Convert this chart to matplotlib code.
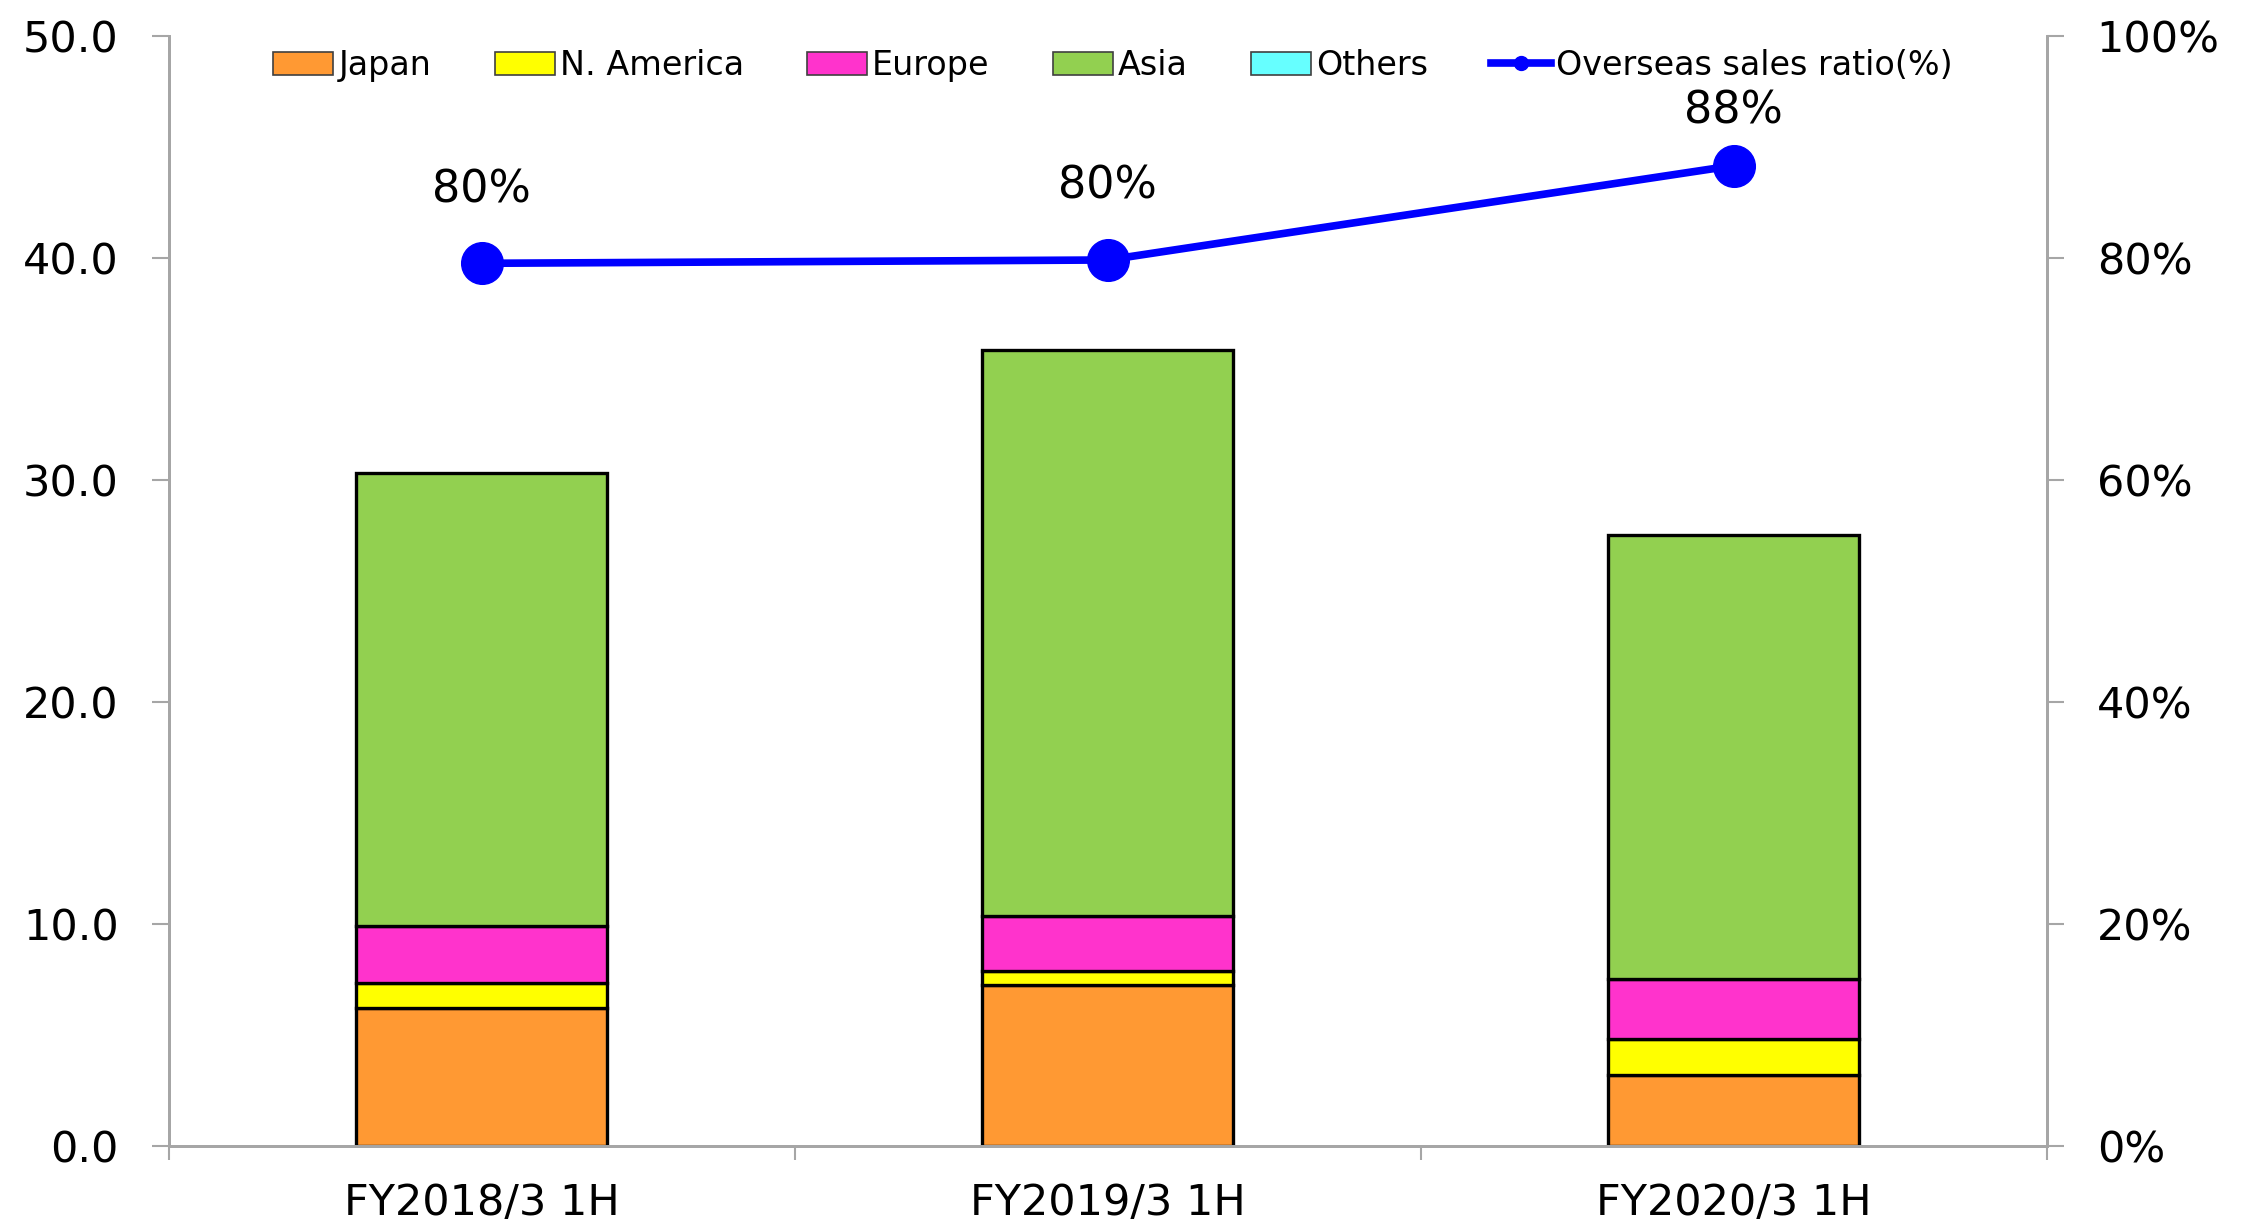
import matplotlib
matplotlib.use("Agg")
import matplotlib.pyplot as plt
from matplotlib.patches import Patch
from matplotlib.lines import Line2D
from matplotlib.ticker import FixedLocator, FuncFormatter
import numpy as np

categories = ["FY2018/3 1H", "FY2019/3 1H", "FY2020/3 1H"]
japan = [6.2, 7.25, 3.2]
n_america = [1.15, 0.65, 1.6]
europe = [2.55, 2.45, 2.7]
asia = [20.4, 25.5, 20.0]
others = [0.0, 0.0, 0.0]
overseas_ratio = [79.5, 79.8, 88.3]
ratio_labels = ["80%", "80%", "88%"]

series_names = ["Japan", "N. America", "Europe", "Asia", "Others"]
series_colors = ["#FF9933", "#FFFF00", "#FF33CC", "#92D050", "#66FFFF"]

plt.rcParams['font.family'] = ['DejaVu Sans']

fig = plt.figure(figsize=(22.41, 12.23), dpi=100)
ax = fig.add_axes([0.0752, 0.063, 0.9133 - 0.0752, 0.9708 - 0.063])
ax2 = ax.twinx()

x = np.arange(len(categories))
bottom = np.zeros(len(categories))
for vals, col in zip([japan, n_america, europe, asia, others], series_colors):
    v = np.array(vals)
    if v.sum() > 0:
        ax.bar(x, v, width=0.40, bottom=bottom, color=col, edgecolor="black",
               linewidth=2.4, zorder=2)
    bottom += v

ax.set_xlim(-0.5, 2.5)
ax.set_ylim(0, 50)
ax.yaxis.set_major_locator(FixedLocator([0, 10, 20, 30, 40, 50]))
ax.yaxis.set_major_formatter(FuncFormatter(lambda v, p: f"{v:.1f}"))
ax.set_xticks(x)
ax.set_xticklabels(categories)
ax.xaxis.set_minor_locator(FixedLocator([-0.5, 0.5, 1.5, 2.5]))
ax.tick_params(axis="x", which="major", length=0, labelsize=31, pad=26)
ax.tick_params(axis="x", which="minor", length=10, width=1.5, color="#A6A6A6")
ax.tick_params(axis="y", length=12, width=1.5, color="#A6A6A6", labelsize=31, pad=24)

ax2.set_ylim(0, 100)
ax2.yaxis.set_major_locator(FixedLocator([0, 20, 40, 60, 80, 100]))
ax2.yaxis.set_major_formatter(FuncFormatter(lambda v, p: f"{int(v)}%"))
ax2.tick_params(axis="y", length=12, width=1.5, color="#A6A6A6", labelsize=31, pad=24)

for a in (ax, ax2):
    a.spines["top"].set_visible(False)
    for s in ("left", "right", "bottom"):
        a.spines[s].set_color("#A6A6A6")
        a.spines[s].set_linewidth(2)

ax2.plot(x, overseas_ratio, color="#0000FF", linewidth=5.5, marker="o",
         markersize=30, zorder=5)
label_offsets = [53, 53, 39]
for xi, yi, lab, off in zip(x, overseas_ratio, ratio_labels, label_offsets):
    ax2.annotate(lab, (xi, yi), xytext=(0, off), textcoords="offset points",
                 ha="center", va="center", fontsize=32)

handles = [Patch(facecolor=c, edgecolor="#404040", linewidth=1.2) for c in series_colors]
handles.append(Line2D([0], [0], color="#0000FF", linewidth=5.5, marker="o", markersize=10))
labels = series_names + ["Overseas sales ratio(%)"]
leg = ax2.legend(handles, labels, loc="upper center", bbox_to_anchor=(0.503, 1.015), ncol=6,
                 frameon=False, fontsize=24, handlelength=1.8, handleheight=0.7,
                 handletextpad=0.15, columnspacing=1.9)

fig.savefig("out.png", dpi=100)
